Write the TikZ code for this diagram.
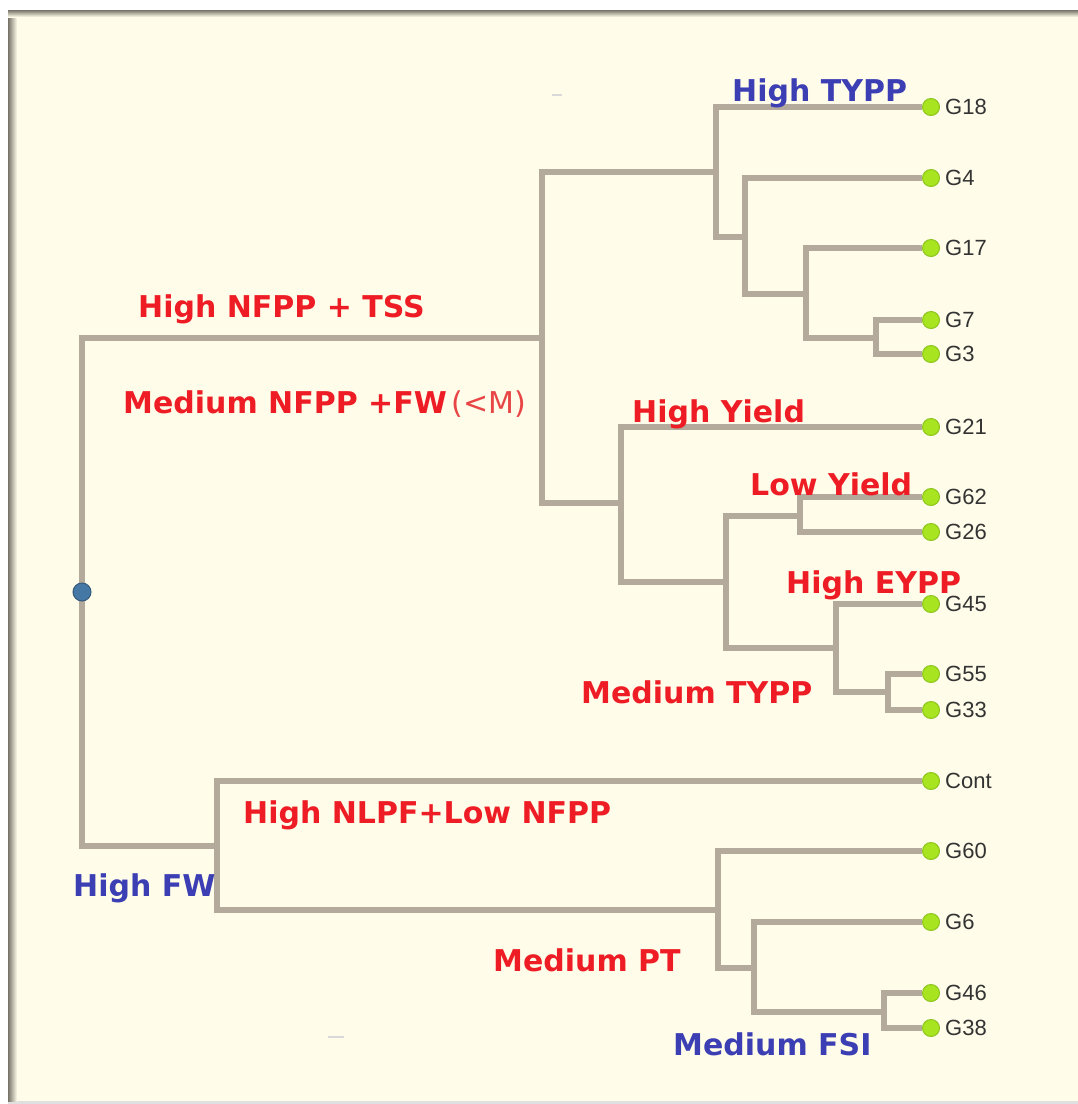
\documentclass[tikz,border=0pt]{standalone}
\usepackage{fontspec}
\setmainfont{DejaVu Sans}
\newfontfamily\leaffont{Liberation Sans}
\usetikzlibrary{backgrounds}
\pgfdeclarelayer{branchlayer}
\pgfsetlayers{background,branchlayer,main}

\definecolor{paper}{RGB}{255,253,233}
\definecolor{branchcol}{RGB}{180,170,156}
\definecolor{leafgreen}{RGB}{168,228,32}
\definecolor{leafedge}{RGB}{140,196,30}
\definecolor{rootblue}{RGB}{70,120,165}
\definecolor{labred}{RGB}{238,28,36}
\definecolor{lightred}{RGB}{232,70,70}
\definecolor{labblue}{RGB}{60,62,180}
\definecolor{shadowcol}{RGB}{120,116,106}

\tikzset{
  branchline/.style={draw=branchcol, line width=5.5pt},
  leafdot/.style={circle, fill=leafgreen, draw=leafedge, line width=1pt,
                  minimum size=17pt, inner sep=0pt},
  rootdot/.style={circle, fill=rootblue, draw=rootblue!75!black, line width=1pt,
                  minimum size=18pt, inner sep=0pt},
  leaftext/.style={font=\leaffont\fontsize{22}{22}\selectfont, text=black!80,
                   anchor=base west, inner sep=0pt},
  redlab/.style={font=\bfseries\fontsize{30}{30}\selectfont, text=labred,
                 anchor=base west, inner sep=0pt},
  bluelab/.style={redlab, text=labblue},
}

\begin{document}
\begin{tikzpicture}[x=1pt, y=-1pt]
\useasboundingbox (0,0) rectangle (1078,1104);

% paper and frame
\begin{pgfonlayer}{background}
  \fill[white] (0,0) rectangle (1078,1104);
  \fill[paper] (8,10) rectangle (1078,1101);
  \fill[black!12] (8,1101) rectangle (1078,1104);
  \shade[left color=shadowcol, right color=paper] (8,10) rectangle (17,1101);
  \shade[top color=shadowcol, bottom color=paper] (8,10) rectangle (1078,17);
  \draw[black!15, line width=1.5pt] (552,95) -- (562,95);
  \draw[black!15, line width=1.5pt] (328,1037) -- (344,1037);
\end{pgfonlayer}

% internal joints
\coordinate (r)  at (82,592);
\coordinate (a)  at (542,338);
\coordinate (b)  at (716,172);
\coordinate (b2) at (745,237);
\coordinate (b3) at (806,294);
\coordinate (b4) at (876,338);
\coordinate (c)  at (621,503);
\coordinate (c2) at (726,582);
\coordinate (c3) at (800,516);
\coordinate (c4) at (836,648);
\coordinate (c5) at (888,692);
\coordinate (d)  at (217,846);
\coordinate (e)  at (718,910);
\coordinate (e2) at (754,968);
\coordinate (e3) at (884,1012);

% leaves
\foreach \nm/\yy in {g18/107, g4/178, g17/248, g7/320, g3/354, g21/427,
                     g62/497, g26/532, g45/604, g55/674, g33/710,
                     cont/781, g60/851, g6/922, g46/993, g38/1028}
  \node[leafdot] (\nm) at (931,\yy) {};

\foreach \nm/\txt in {g18/G18, g4/G4, g17/G17, g7/G7, g3/G3, g21/G21,
                      g62/G62, g26/G26, g45/G45, g55/G55, g33/G33,
                      cont/Cont, g60/G60, g6/G6, g46/G46, g38/G38}
  \node[leaftext] (t-\nm) at ([xshift=5pt, yshift=-7pt]\nm.east) {\txt};

% branches
\begin{pgfonlayer}{branchlayer}
  \draw[branchline] (r) |- (a)   (r) |- (d);
  \draw[branchline] (a) |- (b)   (a) |- (c);
  \draw[branchline] (b) |- (g18) (b) |- (b2);
  \draw[branchline] (b2) |- (g4) (b2) |- (b3);
  \draw[branchline] (b3) |- (g17) (b3) |- (b4);
  \draw[branchline] (b4) |- (g7) (b4) |- (g3);
  \draw[branchline] (c) |- (g21) (c) |- (c2);
  \draw[branchline] (c2) |- (c3) (c2) |- (c4);
  \draw[branchline] (c3) |- (g62) (c3) |- (g26);
  \draw[branchline] (c4) |- (g45) (c4) |- (c5);
  \draw[branchline] (c5) |- (g55) (c5) |- (g33);
  \draw[branchline] (d) |- (cont) (d) |- (e);
  \draw[branchline] (e) |- (g60) (e) |- (e2);
  \draw[branchline] (e2) |- (g6) (e2) |- (e3);
  \draw[branchline] (e3) |- (g46) (e3) |- (g38);
\end{pgfonlayer}

\node[rootdot] (root) at (r) {};

% trait labels
\node[bluelab] (l-typp)  at (732,101)  {High TYPP};
\node[redlab]  (l-nfpp)  at (138,317)  {High NFPP + TSS};
\node[redlab]  (l-med)   at (123,413)  {Medium NFPP +FW\,{\mdseries\color{lightred}(<M)}};
\node[redlab]  (l-hy)    at (632,422)  {High Yield};
\node[redlab]  (l-ly)    at (750,495)  {Low Yield};
\node[redlab]  (l-eypp)  at (786,593)  {High EYPP};
\node[redlab]  (l-mtypp) at (581,703)  {Medium TYPP};
\node[redlab]  (l-nlpf)  at (243,823)  {High NLPF+Low NFPP};
\node[bluelab] (l-fw)    at (73,896)   {High FW};
\node[redlab]  (l-pt)    at (493,971)  {Medium PT};
\node[bluelab] (l-fsi)   at (673,1055) {Medium FSI};
\end{tikzpicture}
\end{document}
